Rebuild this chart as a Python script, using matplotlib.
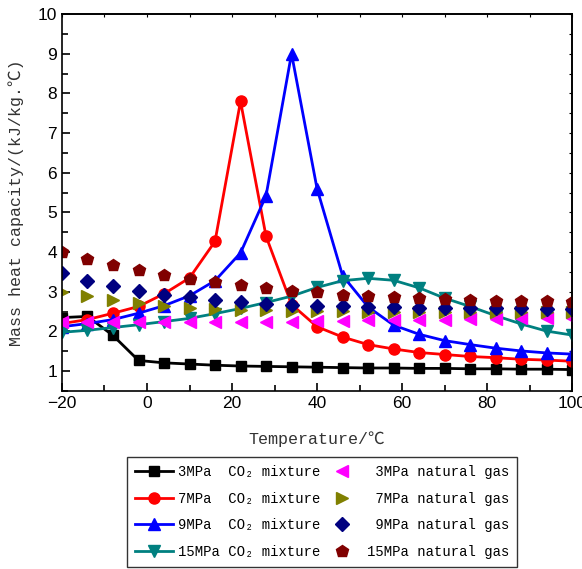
import matplotlib
matplotlib.use('Agg')
import matplotlib.pyplot as plt
from matplotlib.ticker import MultipleLocator

# temperature points, degC
temps = [-20, -14, -8, -2, 4, 10, 16, 22, 28, 34, 40, 46, 52, 58, 64, 70, 76, 82, 88, 94, 100]

# CO2 mixture
co2_3 = [2.35, 2.38, 1.90, 1.27, 1.21, 1.18, 1.15, 1.13, 1.12, 1.11, 1.10, 1.09, 1.08, 1.08, 1.07,
         1.07, 1.06, 1.06, 1.05, 1.05, 1.04]
co2_7 = [2.20, 2.30, 2.46, 2.63, 2.95, 3.35, 4.27, 7.80, 4.40, 2.68, 2.12, 1.86, 1.67, 1.56, 1.47,
         1.42, 1.37, 1.34, 1.30, 1.28, 1.25]
co2_9 = [2.12, 2.20, 2.30, 2.46, 2.65, 2.90, 3.28, 3.98, 5.42, 9.00, 5.60, 3.41, 2.62, 2.16, 1.93,
         1.77, 1.67, 1.58, 1.51, 1.46, 1.43]
co2_15 = [1.98, 2.03, 2.10, 2.17, 2.25, 2.33, 2.45, 2.58, 2.73, 2.89, 3.11, 3.28, 3.34, 3.29, 3.10,
          2.84, 2.63, 2.40, 2.19, 2.01, 1.91]

# natural gas
ng_3 = [2.25, 2.25, 2.24, 2.23, 2.24, 2.24, 2.23, 2.23, 2.23, 2.24, 2.27, 2.27, 2.28, 2.28, 2.29,
        2.30, 2.31, 2.32, 2.33, 2.34, 2.35]
ng_7 = [3.00, 2.90, 2.80, 2.72, 2.65, 2.60, 2.57, 2.55, 2.53, 2.52, 2.51, 2.51, 2.50, 2.50, 2.50,
        2.50, 2.50, 2.50, 2.50, 2.50, 2.50]
ng_9 = [3.47, 3.28, 3.15, 3.02, 2.92, 2.87, 2.80, 2.75, 2.70, 2.67, 2.65, 2.64, 2.62, 2.61, 2.60,
        2.60, 2.59, 2.58, 2.58, 2.57, 2.57]
ng_15 = [4.00, 3.83, 3.68, 3.55, 3.43, 3.33, 3.25, 3.17, 3.10, 3.03, 3.00, 2.93, 2.89, 2.87, 2.85,
         2.83, 2.80, 2.78, 2.77, 2.76, 2.75]

label_font = ['Liberation Mono', 'DejaVu Sans Mono', 'Noto Sans CJK SC']

fig = plt.figure(figsize=(5.82, 5.69), dpi=100)
ax = fig.add_axes([0.1065, 0.3128, 0.8765, 0.6626])

ms = 7
h1, = ax.plot(temps, co2_3, '-s', color='black', lw=2, ms=ms)
h2, = ax.plot(temps, co2_7, '-o', color='red', lw=2, ms=ms + 1)
h3, = ax.plot(temps, co2_9, '-^', color='blue', lw=2, ms=ms + 1)
h4, = ax.plot(temps, co2_15, '-v', color='#008080', lw=2, ms=ms + 1)
h5, = ax.plot(temps, ng_3, '<', color='magenta', ls='none', ms=ms + 2)
h6, = ax.plot(temps, ng_7, '>', color='#808000', ls='none', ms=ms + 2)
h7, = ax.plot(temps, ng_9, 'D', color='#000080', ls='none', ms=ms)
h8, = ax.plot(temps, ng_15, 'p', color='#800000', ls='none', ms=ms + 2)

ax.set_xlim(-20, 100)
ax.set_ylim(0.5, 10)
ax.xaxis.set_major_locator(MultipleLocator(20))
ax.xaxis.set_minor_locator(MultipleLocator(10))
ax.yaxis.set_major_locator(MultipleLocator(1))
ax.yaxis.set_minor_locator(MultipleLocator(0.5))
ax.set_yticks(range(1, 11))
ax.tick_params(which='both', direction='in', labelsize=12.5)
ax.tick_params(which='major', length=6, width=1.2)
ax.tick_params(which='minor', length=4, width=1.2)
for lbl in ax.get_xticklabels() + ax.get_yticklabels():
    lbl.set_family('Liberation Sans')

# tiny ticks on top and right
top = ax.secondary_xaxis('top')
top.xaxis.set_major_locator(MultipleLocator(10))
top.tick_params(direction='in', length=2, labeltop=False)
right = ax.secondary_yaxis('right')
right.yaxis.set_major_locator(MultipleLocator(0.5))
right.tick_params(direction='in', length=2, labelright=False)
for s in ax.spines.values():
    s.set_linewidth(1.2)
top.spines['top'].set_linewidth(1.2)
right.spines['right'].set_linewidth(1.2)

ax.set_xlabel('Temperature/℃', family=label_font, fontsize=12, labelpad=15, color='#333333')
ax.set_ylabel('Mass heat capacity/(kJ/kg.℃)', family=label_font, fontsize=12, labelpad=10,
              color='#333333')

# column-wise fill: CO2 mixtures first, then natural gas
handles = [h1, h2, h3, h4, h5, h6, h7, h8]
labels = ['3MPa  CO₂ mixture', '7MPa  CO₂ mixture',
          '9MPa  CO₂ mixture', '15MPa CO₂ mixture',
          ' 3MPa natural gas', ' 7MPa natural gas',
          ' 9MPa natural gas', '15MPa natural gas']
leg = fig.legend(handles, labels, ncol=2, loc='upper left',
                 bbox_to_anchor=(127 / 582, 1 - 457 / 569),
                 prop={'family': label_font, 'size': 10},
                 frameon=True, fancybox=False, edgecolor='black',
                 handlelength=2.7, columnspacing=0.2, handletextpad=0.4,
                 labelspacing=0.9, borderpad=0.6, borderaxespad=0)
leg.get_frame().set_linewidth(1.0)

fig.savefig('out.png', dpi=100)
